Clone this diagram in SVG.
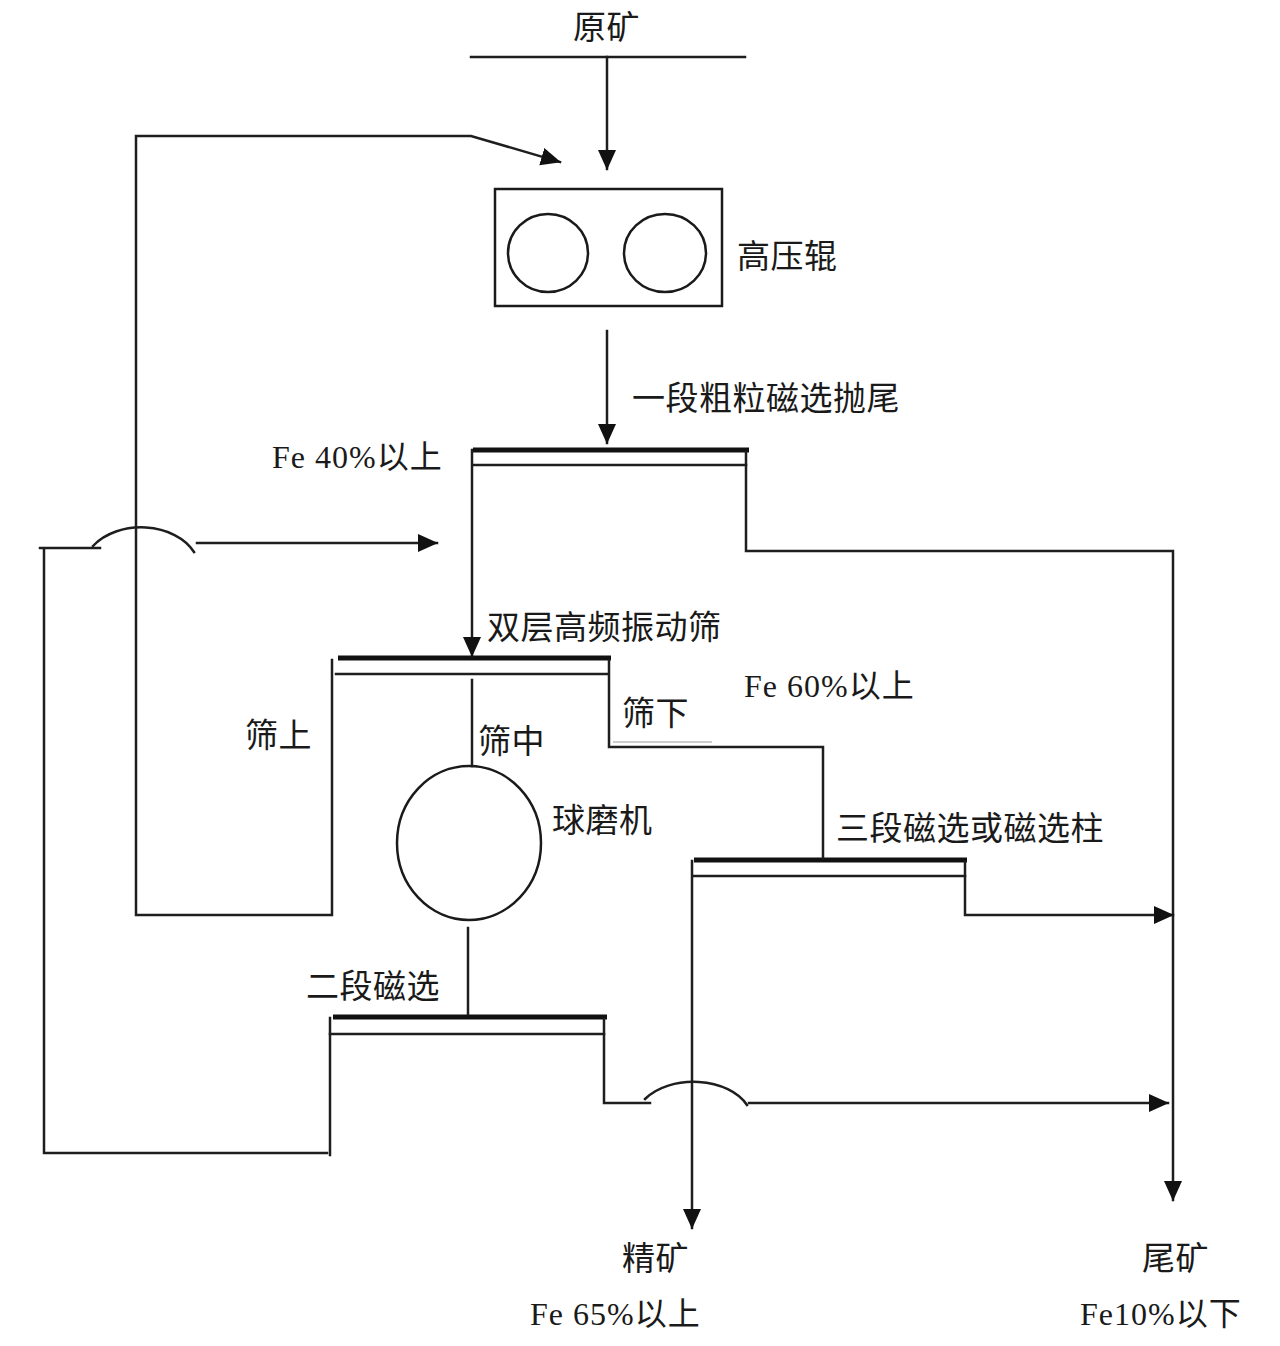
<svg xmlns="http://www.w3.org/2000/svg" width="1280" height="1346" viewBox="0 0 1280 1346">
<style>
.ln{fill:none;stroke:#1e1e1e;stroke-width:2.5;stroke-linecap:square}
.bar{fill:none;stroke:#111;stroke-width:5}
.shape{fill:none;stroke:#1a1a1a;stroke-width:2.5}
.cjk{font-family:"Noto Sans CJK SC","Noto Sans CJK JP",sans-serif;font-size:33px;letter-spacing:0.5px;fill:#1a1a1a}
.mix{font-family:"Liberation Serif","Noto Sans CJK SC",serif;font-size:32px;letter-spacing:1px;fill:#1a1a1a}
</style>
<defs>
<marker id="ah" viewBox="0 0 20 20" refX="19" refY="10" markerWidth="20" markerHeight="20" markerUnits="userSpaceOnUse" orient="auto">
<path d="M0,1 L20,10 L0,19 z" fill="#111"/>
</marker>
</defs>
<rect width="1280" height="1346" fill="#fff"/>

<g id="raw-ore">
<text class="cjk" x="573" y="39">原矿</text>
<line class="ln" x1="471" y1="57" x2="745" y2="57"/>
</g>

<g id="hpgr">
<rect class="shape" x="495" y="189" width="227" height="117"/>
<ellipse class="shape" cx="548" cy="253" rx="40" ry="39"/>
<ellipse class="shape" cx="665" cy="253" rx="41" ry="39"/>
<text class="cjk" x="737" y="268">高压辊</text>
</g>

<g id="sep1">
<line class="bar" x1="473" y1="450" x2="749" y2="450"/>
<line class="ln" x1="473" y1="465" x2="746" y2="465"/>
<text class="cjk" x="632" y="410">一段粗粒磁选抛尾</text>
<text class="mix" x="272" y="468">Fe 40%以上</text>
</g>

<g id="screen">
<line class="bar" x1="338" y1="658" x2="611" y2="658"/>
<line class="ln" x1="336" y1="674" x2="608" y2="674"/>
<text class="cjk" x="487" y="639">双层高频振动筛</text>
<text class="cjk" x="245" y="747">筛上</text>
<text class="cjk" x="478" y="753">筛中</text>
<text class="cjk" x="622" y="725">筛下</text>
<text class="mix" x="744" y="697">Fe 60%以上</text>
</g>

<g id="ball-mill">
<ellipse class="shape" cx="469" cy="843" rx="72" ry="77"/>
<text class="cjk" x="552" y="832">球磨机</text>
</g>

<g id="sep3">
<line class="bar" x1="694" y1="860" x2="967" y2="860"/>
<line class="ln" x1="693" y1="876" x2="965" y2="876"/>
<text class="cjk" x="836" y="840">三段磁选或磁选柱</text>
</g>

<g id="sep2">
<line class="bar" x1="333" y1="1017" x2="607" y2="1017"/>
<line class="ln" x1="330" y1="1034" x2="604" y2="1034"/>
<text class="cjk" x="306" y="998">二段磁选</text>
</g>

<g id="concentrate">
<text class="cjk" x="622" y="1270">精矿</text>
<text class="mix" x="530" y="1325">Fe 65%以上</text>
</g>

<g id="tailings">
<text class="cjk" x="1142" y="1270">尾矿</text>
<text class="mix" x="1080" y="1325">Fe10%以下</text>
</g>

<g id="connectors">
<line class="ln" x1="607" y1="57" x2="607" y2="169" marker-end="url(#ah)"/>
<polyline class="ln" points="332,660 332,915"/>
<polyline class="ln" points="330,915 136,915 136,136 471,136 560,162" marker-end="url(#ah)"/>
<line class="ln" x1="607" y1="331" x2="607" y2="443" marker-end="url(#ah)"/>
<line class="ln" x1="472" y1="450" x2="472" y2="656" marker-end="url(#ah)"/>
<polyline class="ln" points="746,452 746,551 1173,551 1173,1200" marker-end="url(#ah)"/>
<polyline class="ln" points="327,1153 44,1153 44,549"/>
<line class="ln" x1="40" y1="548" x2="100" y2="548"/>
<path class="ln" d="M93,546 A58,42 0 0 1 194,552"/>
<line class="ln" x1="197" y1="543" x2="437" y2="543" marker-end="url(#ah)"/>
<polyline class="ln" points="330,1018 330,1155"/>
<line class="ln" x1="472" y1="680" x2="472" y2="766"/>
<line class="ln" x1="468" y1="928" x2="468" y2="1014"/>
<polyline class="ln" points="609,660 609,747 823,747 823,858"/>
<line x1="613" y1="742" x2="712" y2="742" stroke="#bbb" stroke-width="1.5"/>
<line class="ln" x1="692" y1="861" x2="692" y2="1228" marker-end="url(#ah)"/>
<polyline class="ln" points="965,862 965,915 1173,915" marker-end="url(#ah)"/>
<polyline class="ln" points="604,1019 604,1103 650,1103"/>
<path class="ln" d="M645,1099 A58,38 0 0 1 747,1105"/>
<line class="ln" x1="749" y1="1103" x2="1168" y2="1103" marker-end="url(#ah)"/>
</g>
</svg>
